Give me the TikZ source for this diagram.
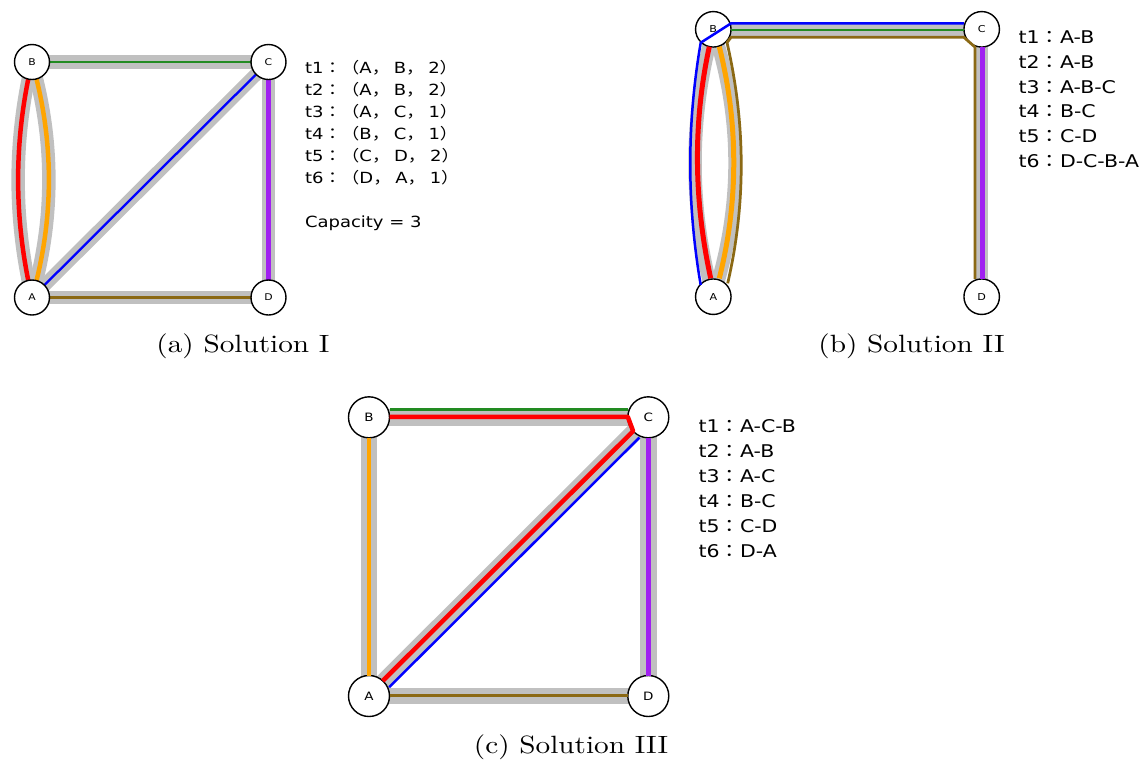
\documentclass[tikz,border=0pt]{standalone}
\usepackage{fontspec}
\usepackage{graphicx}
\newfontfamily\labf{DejaVu Sans}
\newfontfamily\cjkf{Noto Sans CJK JP}
\usetikzlibrary{calc}
\pgfdeclarelayer{bg}
\pgfsetlayers{bg,main}
\newcommand{\hs}[1]{\scalebox{1.17}[1]{#1}}
\newcommand{\cg}{\hspace{1.4pt}}
\definecolor{bandgray}{RGB}{192,192,192}
\definecolor{tred}{RGB}{255,0,0}
\definecolor{torange}{RGB}{255,165,0}
\definecolor{tblue}{RGB}{0,0,255}
\definecolor{tgreen}{RGB}{34,139,34}
\definecolor{tpurple}{RGB}{160,32,240}
\definecolor{tbrown}{RGB}{139,105,20}
\begin{document}
\begin{tikzpicture}[x=0.4pt,y=-0.4pt,
  vbase/.style={circle,draw=black,fill=white,line width=0.56pt,inner sep=0pt},
  vA/.style={vbase,minimum size=14pt,font=\labf\fontsize{3.7}{4}\selectfont},
  vB/.style={vbase,minimum size=14.2pt,font=\labf\fontsize{3.8}{4}\selectfont},
  vC/.style={vbase,minimum size=16.4pt,font=\labf\fontsize{4.6}{5}\selectfont},
  band/.style={draw=bandgray,line width=5.4pt},
  bandc/.style={draw=bandgray,line width=6.6pt},
  dtwo/.style={line width=1.8pt,line join=round},
  done/.style={line width=0.92pt,line join=round},
  laba/.style={anchor=base west,inner sep=0pt,font=\labf\fontsize{6.15}{7}\selectfont},
  labb/.style={anchor=base west,inner sep=0pt,font=\labf\fontsize{7}{8}\selectfont},
  captext/.style={anchor=base,inner sep=0pt,font=\fontsize{10}{12}\selectfont}
]
\useasboundingbox (0,0) rectangle (1142,763);

% ---------- panel (a) ----------
\node[vA] (aB) at (32,62) {\hs{B}};
\node[vA] (aC) at (268.5,62) {\hs{C}};
\node[vA] (aA) at (32,297.5) {\hs{A}};
\node[vA] (aD) at (268.5,297.5) {\hs{D}};
\begin{pgfonlayer}{bg}
  \draw[band] (aB.center) .. controls +(-18.5,78.5) and +(-18.5,-78.5) .. (aA.center);
  \draw[band] (aB.center) .. controls +(22.5,78.5) and +(22.5,-78.5) .. (aA.center);
  \draw[band] (aB.center) -- (aC.center);
  \draw[band] (aA.center) -- (aC.center);
  \draw[band] (aC.center) -- (aD.center);
  \draw[band] (aA.center) -- (aD.center);
  \draw[dtwo,tred] (aB.center) .. controls +(-18.5,78.5) and +(-18.5,-78.5) .. (aA.center);
  \draw[dtwo,torange] (aB.center) .. controls +(22.5,78.5) and +(22.5,-78.5) .. (aA.center);
  \draw[done,tgreen] (aB.center) -- (aC.center);
  \draw[done,tblue] (aA.center) -- (aC.center);
  \draw[dtwo,tpurple] (aC.center) -- (aD.center);
  \draw[done,tbrown] (aA.center) -- (aD.center);
\end{pgfonlayer}
\node[laba] (la1) at (304.5,73.3) {\hs{t1{\cjkf ：（}A{\cjkf ，}\cg B{\cjkf ，}\cg 2{\cjkf ）}}};
\node[laba] (la2) at (304.5,95.3) {\hs{t2{\cjkf ：（}A{\cjkf ，}\cg B{\cjkf ，}\cg 2{\cjkf ）}}};
\node[laba] (la3) at (304.5,117.3) {\hs{t3{\cjkf ：（}A{\cjkf ，}\cg C{\cjkf ，}\cg 1{\cjkf ）}}};
\node[laba] (la4) at (304.5,139.3) {\hs{t4{\cjkf ：（}B{\cjkf ，}\cg C{\cjkf ，}\cg 1{\cjkf ）}}};
\node[laba] (la5) at (304.5,161.3) {\hs{t5{\cjkf ：（}C{\cjkf ，}\cg D{\cjkf ，}\cg 2{\cjkf ）}}};
\node[laba] (la6) at (304.5,183.3) {\hs{t6{\cjkf ：（}D{\cjkf ，}\cg A{\cjkf ，}\cg 1{\cjkf ）}}};
\node[laba] (lacap) at (304.5,227.3) {\hs{Capacity = 3}};
\node[captext] (capa) at (243,352) {\hs{(a) Solution I}};

% ---------- panel (b) ----------
\node[vB] (bB) at (713.3,29.3) {\hs{B}};
\node[vB] (bC) at (981.7,29.3) {\hs{C}};
\node[vB] (bA) at (713.3,296.7) {\hs{A}};
\node[vB] (bD) at (981.7,296.7) {\hs{D}};
\begin{pgfonlayer}{bg}
  \draw[band] (bB.center) .. controls +(-24.4,89) and +(-24.4,-89) .. (bA.center);
  \draw[band] (bB.center) .. controls +(29,89) and +(29,-89) .. (bA.center);
  \draw[band] (bB.center) -- (bC.center);
  \draw[band] (bC.center) -- (bD.center);
\end{pgfonlayer}
\draw[dtwo,tred,line width=2pt] ($(bB.center)+(-4,17.4)$) .. controls +(-16.7,77) and +(-16.7,-77) .. ($(bA.center)+(-2.6,-18.4)$);
\draw[dtwo,torange,line width=2pt] ($(bB.center)+(6,17.4)$) .. controls +(19.3,77) and +(19.3,-77) .. ($(bA.center)+(6,-18.4)$);
\draw[done,tblue,line width=1pt] ($(bA.center)+(-12.6,-11.7)$) .. controls +(-13.9,-80.8) and +(-13.9,80.8) .. ($(bB.center)+(-12.6,13.4)$)
   -- ($(bB.center)+(17.8,-6)$) -- ($(bC.center)+(-17.8,-6)$);
\draw[done,tgreen,line width=1.1pt] ($(bB.center)+(17.8,0.7)$) -- ($(bC.center)+(-17.8,0.7)$);
\draw[dtwo,tpurple,line width=2.1pt] ($(bC.center)+(0.5,17.8)$) -- ($(bD.center)+(0.5,-17.8)$);
\draw[done,tbrown,line width=1.1pt] ($(bD.center)+(-6.7,-17.8)$) -- ($(bC.center)+(-6.7,17.8)$)
   -- ($(bC.center)+(-17.8,8)$) -- ($(bB.center)+(17.8,8)$) -- ($(bB.center)+(13.7,13.2)$)
   .. controls +(18.5,80.3) and +(18.5,-80.3) .. ($(bA.center)+(14.4,-13.4)$);
\node[labb] (lb1) at (1018,43.5) {\hs{t1{\cjkf ：}A-B}};
\node[labb] (lb2) at (1018,68.3) {\hs{t2{\cjkf ：}A-B}};
\node[labb] (lb3) at (1018,93.1) {\hs{t3{\cjkf ：}A-B-C}};
\node[labb] (lb4) at (1018,117.9) {\hs{t4{\cjkf ：}B-C}};
\node[labb] (lb5) at (1018,142.7) {\hs{t5{\cjkf ：}C-D}};
\node[labb] (lb6) at (1018,167.5) {\hs{t6{\cjkf ：}D-C-B-A}};
\node[captext] (capb) at (911.5,352) {\hs{(b) Solution II}};

% ---------- panel (c) ----------
\node[vC] (cB) at (369,417.3) {\hs{B}};
\node[vC] (cC) at (648.3,417.3) {\hs{C}};
\node[vC] (cA) at (369,696) {\hs{A}};
\node[vC] (cD) at (648.3,696) {\hs{D}};
\begin{pgfonlayer}{bg}
  \draw[bandc] (cA.center) -- (cB.center);
  \draw[bandc] (cB.center) -- (cC.center);
  \draw[bandc] (cA.center) -- (cC.center);
  \draw[bandc] (cC.center) -- (cD.center);
  \draw[bandc] (cA.center) -- (cD.center);
\end{pgfonlayer}
\draw[done,tgreen,line width=1pt] ($(cB.center)+(20.5,-8)$) -- ($(cC.center)+(-20.5,-8)$);
\draw[dtwo,tred] ($(cA.center)+(13.8,-15.2)$) -- ($(cC.center)+(-15.2,13.8)$)
   -- ($(cC.center)+(-20.5,-0.5)$) -- ($(cB.center)+(20.5,-0.5)$);
\draw[done,tblue,line width=1pt] ($(cA.center)+(20.2,-8.8)$) -- ($(cC.center)+(-8.8,20.2)$);
\draw[dtwo,torange] ($(cB.center)+(0,20.5)$) -- ($(cA.center)+(0,-20.5)$);
\draw[dtwo,tpurple] ($(cC.center)+(0,20.5)$) -- ($(cD.center)+(0,-20.5)$);
\draw[done,tbrown,line width=1pt] ($(cA.center)+(20.5,-0.5)$) -- ($(cD.center)+(-20.5,-0.5)$);
\node[labb] (lc1) at (698,432) {\hs{t1{\cjkf ：}A-C-B}};
\node[labb] (lc2) at (698,457) {\hs{t2{\cjkf ：}A-B}};
\node[labb] (lc3) at (698,482) {\hs{t3{\cjkf ：}A-C}};
\node[labb] (lc4) at (698,507) {\hs{t4{\cjkf ：}B-C}};
\node[labb] (lc5) at (698,532) {\hs{t5{\cjkf ：}C-D}};
\node[labb] (lc6) at (698,557) {\hs{t6{\cjkf ：}D-A}};
\node[captext] (capc) at (571,753) {\hs{(c) Solution III}};
\end{tikzpicture}
\end{document}
